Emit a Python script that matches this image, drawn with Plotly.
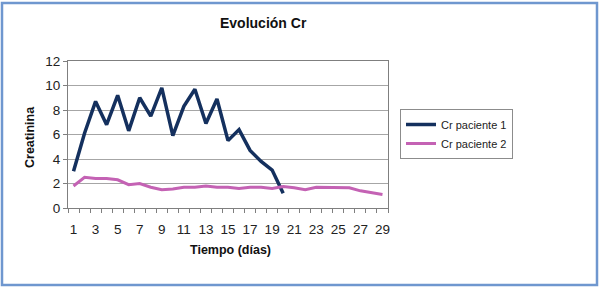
import plotly.graph_objects as go

dias = list(range(1, 30))
cr_paciente_1 = [3.0, 6.1, 8.7, 6.8, 9.2, 6.3, 9.0, 7.5, 9.8, 5.9, 8.3, 9.7, 6.9, 8.9, 5.5, 6.4, 4.7, 3.8, 3.1, 1.2]
cr_paciente_2 = [1.8, 2.5, 2.4, 2.4, 2.3, 1.9, 2.0, 1.7, 1.5, 1.55, 1.7, 1.7, 1.8, 1.7, 1.7, 1.6, 1.7, 1.7, 1.6, 1.75,
                 1.65, 1.5, 1.7, 1.7, 1.7, 1.65, 1.4, 1.25, 1.1]
x_ticks = list(range(1, 30, 2))
y_ticks = [0, 2, 4, 6, 8, 10, 12]

W, H = 600, 289
L, R, T, B = 68, 212, 61, 81
pw, ph = W - L - R, H - T - B

def px(x):
    return (x - L) / pw

def py(y):
    return (H - B - y) / ph

FONT = "Liberation Sans, Arial, sans-serif"

fig = go.Figure()
fig.add_trace(go.Scatter(x=dias[:len(cr_paciente_1)], y=cr_paciente_1, mode="lines",
                         name="Cr paciente 1", line=dict(color="#14305E", width=3.5)))
fig.add_trace(go.Scatter(x=dias, y=cr_paciente_2, mode="lines",
                         name="Cr paciente 2", line=dict(color="#C462B4", width=3)))

fig.update_layout(
    width=W, height=H,
    margin=dict(l=L, r=R, t=T, b=B),
    paper_bgcolor="white", plot_bgcolor="white",
    font=dict(family=FONT, color="#222222", size=13),
    showlegend=True,
    legend=dict(x=px(400), y=py(134), xanchor="left", yanchor="middle",
                bordercolor="#8C8C8C", borderwidth=1, font=dict(size=11, color="#222222"),
                bgcolor="white", tracegroupgap=0),
    xaxis=dict(range=[0.5, 29.5], tickvals=x_ticks, ticktext=[str(v) for v in x_ticks],
               showgrid=False, zeroline=False, showline=True, linecolor="#7F7F7F", linewidth=1,
               mirror=True, ticks="", tickfont=dict(size=13.5), ticklabelstandoff=9,
               minor=dict(ticks="outside", tick0=0.5, dtick=1, ticklen=4, tickcolor="#7F7F7F", showgrid=False)),
    yaxis=dict(range=[0, 12], tickvals=y_ticks, showgrid=True, gridcolor="#A6A6A6", gridwidth=1,
               zeroline=False, showline=True, linecolor="#7F7F7F", linewidth=1, mirror=True,
               ticks="outside", ticklen=4, tickcolor="#7F7F7F", tickfont=dict(size=13.5)),
    annotations=[
        dict(text="<b>Evolución Cr</b>", x=px(263), y=py(23), xref="paper", yref="paper",
             xanchor="center", yanchor="middle",
             showarrow=False, font=dict(size=14, color="#111111")),
        dict(text="<b>Tiempo (días)</b>", x=px(230), y=py(250), xref="paper", yref="paper",
             xanchor="center", yanchor="middle",
             showarrow=False, font=dict(size=12.5, color="#111111")),
        dict(text="<b>Creatinina</b>", x=px(30), y=py(137), xref="paper", yref="paper",
             xanchor="center", yanchor="middle",
             showarrow=False, textangle=-90, font=dict(size=12.5, color="#111111")),
    ],
    shapes=[
        dict(type="rect", xref="paper", yref="paper", x0=px(2), x1=px(597), y0=py(285), y1=py(3),
             line=dict(color="#6F97CF", width=2.5), layer="below"),
    ],
)

fig.write_html("out.html", config={"displayModeBar": False},
               post_script="document.body.style.margin='0';document.body.style.overflow='hidden';")
